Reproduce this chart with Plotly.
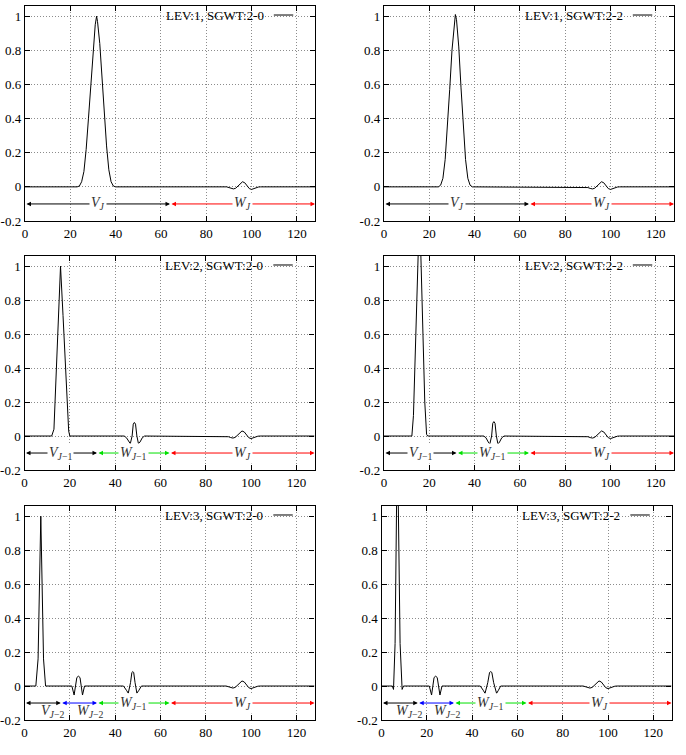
import plotly.graph_objects as go
from plotly.subplots import make_subplots

# ---------------- data ----------------
W96_x = [89, 90, 91, 92, 93, 94, 95, 96, 97, 98, 99, 100, 101, 102, 103, 104]
W96_y = [0, -0.004, -0.009, -0.012, -0.008, 0.006, 0.022, 0.03, 0.024, 0.006, -0.01, -0.015, -0.01, -0.004, -0.001, 0]

lev1_20_x = [0, 23, 24, 25, 26, 27, 28, 29, 30, 31, 31.6, 32, 33, 34, 35, 36, 37, 38, 39, 40] + W96_x + [128]
lev1_20_y = [0, 0, 0.005, 0.03, 0.09, 0.22, 0.40, 0.60, 0.80, 0.95, 1.0, 0.97, 0.84, 0.64, 0.43, 0.24, 0.10, 0.03, 0.005, 0] + W96_y + [0]

lev1_22_x = [0, 24, 25, 26, 27, 28, 29, 30, 31, 31.5, 32, 33, 34, 35, 36, 37, 38, 39] + W96_x + [128]
lev1_22_y = [0, 0, 0.01, 0.05, 0.16, 0.35, 0.57, 0.80, 0.97, 1.01, 0.98, 0.82, 0.58, 0.35, 0.16, 0.05, 0.01, 0] + W96_y + [0]

lev2_20_x = [0, 12, 13, 14, 15, 15.9, 17, 18, 19, 19.5, 20,
             44, 45, 46, 46.7, 47.5, 48, 48.5, 49, 49.6, 50.3, 51, 52, 53] + W96_x + [128]
lev2_20_y = [0, 0, 0.04, 0.37, 0.70, 1.0, 0.71, 0.42, 0.12, 0.03, 0,
             0, -0.01, -0.035, -0.045, 0.0, 0.07, 0.08, 0.07, 0.0, -0.045, -0.035, -0.01, 0] + W96_y + [0]

lev2_22_x = [0, 12.3, 13, 14, 15, 15.6, 16, 17, 18, 18.8, 19.3,
             44, 45, 46, 46.7, 47.5, 48, 48.5, 49, 49.6, 50.3, 51, 52, 53] + W96_x + [128]
lev2_22_y = [0, 0, 0.12, 0.55, 1.05, 1.3, 1.2, 0.65, 0.2, 0.01, 0,
             0, -0.01, -0.035, -0.048, 0.0, 0.075, 0.085, 0.075, 0.0, -0.048, -0.035, -0.01, 0] + W96_y + [0]

lev3_20_x = [0, 5, 6, 7.2, 8.4, 9.3,
             20.9, 21.9, 23.1, 23.8, 24.5, 25.6, 26.5,
             43.7, 45, 45.8, 46.8, 47.4, 47.8, 48.2, 48.8, 49.6, 50.5, 51.6] + W96_x + [128]
lev3_20_y = [0, 0, 0.16, 1.0, 0.16, 0,
             0, -0.053, 0.05, 0.058, 0.05, -0.053, 0,
             0, -0.025, -0.042, 0.02, 0.08, 0.085, 0.08, 0.02, -0.042, -0.025, 0] + W96_y + [0]

lev3_22_x = [0, 4.8, 5.3, 6.0, 7.0, 8.2, 9.1, 9.7,
             21.1, 22.1, 23.2, 23.9, 24.6, 25.8, 26.7,
             43.6, 44.9, 45.7, 46.9, 47.7, 48.2, 48.7, 49.5, 50.8, 51.6, 52.6] + W96_x + [128]
lev3_22_y = [0, 0, -0.02, 0.25, 1.5, 0.25, -0.02, 0,
             0, -0.053, 0.05, 0.058, 0.05, -0.053, 0,
             0, -0.025, -0.043, 0.02, 0.08, 0.085, 0.08, 0.02, -0.043, -0.025, 0] + W96_y + [0]

legend_texts = ["LEV:1, SGWT:2-0", "LEV:1, SGWT:2-2",
                "LEV:2, SGWT:2-0", "LEV:2, SGWT:2-2",
                "LEV:3, SGWT:2-0", "LEV:3, SGWT:2-2"]

x_ticks = [0, 20, 40, 60, 80, 100, 120]
y_ticks = [-0.2, 0, 0.2, 0.4, 0.6, 0.8, 1]
y_tick_text = ["-0.2", "0", "0.2", "0.4", "0.6", "0.8", "1"]

# subspace segments per level (boundaries on the node axis)
seg_bounds = {1: [0, 64, 128], 2: [0, 32, 64, 128], 3: [0, 16, 32, 64, 128]}
seg_colors = {1: ["black", "red"], 2: ["black", "#00e000", "red"],
              3: ["black", "blue", "#00e000", "red"]}
V = "<i>V</i>"
W = "<i>W</i>"
J = "<i>J</i>"
seg_labels = {
    (1, 0): [V + "<sub>" + J + "</sub>", W + "<sub>" + J + "</sub>"],
    (1, 1): [V + "<sub>" + J + "</sub>", W + "<sub>" + J + "</sub>"],
    (2, 0): [V + "<sub>" + J + "−1</sub>", W + "<sub>" + J + "−1</sub>", W + "<sub>" + J + "</sub>"],
    (2, 1): [V + "<sub>" + J + "−1</sub>", W + "<sub>" + J + "−1</sub>", W + "<sub>" + J + "</sub>"],
    (3, 0): [V + "<sub>" + J + "−2</sub>", W + "<sub>" + J + "−2</sub>", W + "<sub>" + J + "−1</sub>", W + "<sub>" + J + "</sub>"],
    (3, 1): [W + "<sub>" + J + "−2</sub>", W + "<sub>" + J + "−2</sub>", W + "<sub>" + J + "−1</sub>", W + "<sub>" + J + "</sub>"],
}

series = {
    (1, 0): (lev1_20_x, lev1_20_y), (1, 1): (lev1_22_x, lev1_22_y),
    (2, 0): (lev2_20_x, lev2_20_y), (2, 1): (lev2_22_x, lev2_22_y),
    (3, 0): (lev3_20_x, lev3_20_y), (3, 1): (lev3_22_x, lev3_22_y),
}

# ---------------- layout (pixels) ----------------
W_PX, H_PX = 686, 755
x_dom_px = {(1, 0): (25, 315), (1, 1): (384, 674),
            (2, 0): (24.5, 314.5), (2, 1): (384, 674),
            (3, 0): (24.5, 314.5), (3, 1): (381.5, 671.5)}
y_dom_px = {1: (6, 221), 2: (256, 470), 3: (506, 720)}

ARROW_Y = -0.1
SERIF = "Liberation Serif"
GRID = dict(showgrid=True, gridcolor="#8c8c8c", griddash="1px,2px", gridwidth=1,
            zeroline=False, showline=True, linecolor="black", linewidth=1.4,
            mirror="ticks", ticks="inside", ticklen=5, tickcolor="black",
            tickwidth=1, automargin=False,
            tickfont=dict(family=SERIF, size=13, color="black"))

fig = make_subplots(rows=3, cols=2)

for r in (1, 2, 3):
    for c in (0, 1):
        idx = (r - 1) * 2 + c + 1
        xa = "xaxis" if idx == 1 else f"xaxis{idx}"
        ya = "yaxis" if idx == 1 else f"yaxis{idx}"
        xr = "x" if idx == 1 else f"x{idx}"
        yr = "y" if idx == 1 else f"y{idx}"

        xs, ys = series[(r, c)]
        fig.add_trace(go.Scatter(x=xs, y=ys, mode="lines",
                                 line=dict(color="black", width=1),
                                 showlegend=False, hoverinfo="skip"),
                      row=r, col=c + 1)

        x0, x1 = x_dom_px[(r, c)]
        yt, yb = y_dom_px[r]
        fig.layout[xa].update(domain=[x0 / W_PX, x1 / W_PX], range=[0, 128],
                              tickvals=x_ticks, anchor=yr, **GRID)
        fig.layout[ya].update(domain=[1 - yb / H_PX, 1 - yt / H_PX],
                              range=[-0.2, 1.06], tickvals=y_ticks,
                              ticktext=y_tick_text, anchor=xr, **GRID)

        # subspace double arrows
        b = seg_bounds[r]
        labs = seg_labels[(r, c)]
        for k in range(len(b) - 1):
            fig.add_annotation(x=b[k + 1], y=ARROW_Y, ax=b[k], ay=ARROW_Y,
                               xref=xr, yref=yr, axref=xr, ayref=yr, text="",
                               showarrow=True, arrowhead=2, startarrowhead=2,
                               arrowside="end+start", arrowsize=0.9,
                               startarrowsize=0.9, arrowwidth=1,
                               arrowcolor=seg_colors[r][k], standoff=0,
                               startstandoff=0)
        for k in range(len(b) - 1):
            mid = (b[k] + b[k + 1]) / 2
            if r == 3 and k < 2:
                lx = [12.5, 29][k]
                fig.add_annotation(x=lx, y=-0.148, xref=xr, yref=yr,
                                   text=labs[k], showarrow=False,
                                   font=dict(family=SERIF, size=14, color="#333"))
            else:
                fig.add_annotation(x=mid, y=ARROW_Y, xref=xr, yref=yr,
                                   text=labs[k], showarrow=False, bgcolor="white",
                                   borderpad=1,
                                   font=dict(family=SERIF, size=14, color="#333"))

        # legend-like key (text + line sample)
        fig.add_annotation(text=legend_texts[idx - 1], xref=f"{xr} domain",
                           yref=f"{yr} domain", x=0.83, y=0.955,
                           xanchor="right", yanchor="middle", showarrow=False,
                           font=dict(family=SERIF, size=13, color="black"))
        fig.add_shape(type="line", xref=f"{xr} domain", yref=f"{yr} domain",
                      x0=0.858, x1=0.925, y0=0.958, y1=0.958,
                      line=dict(color="black", width=1))

fig.update_layout(width=W_PX, height=H_PX, margin=dict(l=0, r=0, t=0, b=0),
                  paper_bgcolor="white", plot_bgcolor="white", showlegend=False)

fig.write_html("out.html")
